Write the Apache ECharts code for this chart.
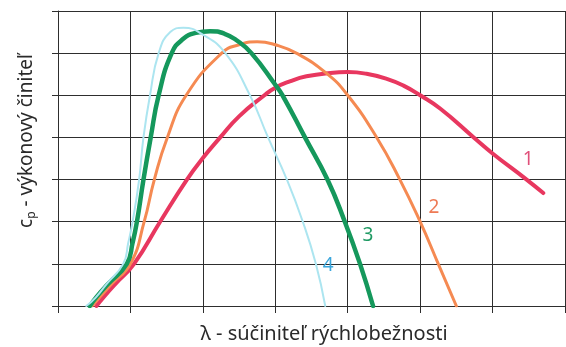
<!DOCTYPE html>
<html>
<head>
<meta charset="utf-8">
<script src="https://cdn.jsdelivr.net/npm/echarts@6/dist/echarts.min.js"></script>
<style>
html,body{margin:0;padding:0;background:#fff;}
#chart{width:566px;height:347px;}
</style>
</head>
<body>
<div id="chart"></div>
<script>
// Curve data in grid units (x: λ, y: cp)
var curve1 = [[0.53,0],[0.63,0.21],[0.79,0.52],[1.05,1],[1.41,2],[1.78,3],[2.0,3.51],[2.24,4],[2.5,4.5],[2.85,5],[3.0,5.18],[3.2,5.33],[3.43,5.45],[3.76,5.53],[4.0,5.55],[4.26,5.51],[4.54,5.39],[4.77,5.23],[5.0,5.0],[5.28,4.68],[5.74,4.0],[6.0,3.62],[6.47,3],[6.7,2.68]];
var curve2 = [[0.47,0],[0.74,0.52],[1.0,1],[1.19,2],[1.33,3],[1.51,4],[1.77,5],[2.26,6],[2.5,6.2],[2.75,6.27],[3.0,6.2],[3.29,6],[3.7,5.53],[4.0,5],[4.4,4],[4.72,3],[5.0,2],[5.25,1],[5.5,0]];
var curve3 = [[0.44,0],[0.53,0.21],[0.69,0.52],[0.95,1],[1.03,1.5],[1.09,2],[1.18,3],[1.28,4],[1.39,5],[1.57,6],[1.73,6.34],[1.9,6.48],[2.1,6.52],[2.3,6.46],[2.47,6.3],[2.67,6],[3.0,5.25],[3.1,5],[3.41,4],[3.72,3],[3.96,2],[4.17,1],[4.35,0]];
var curve4 = [[0.39,0],[0.52,0.2],[0.67,0.52],[0.9,1],[0.97,1.5],[1.03,2],[1.12,3],[1.18,4],[1.27,5],[1.39,6],[1.55,6.5],[1.73,6.6],[2.0,6.44],[2.31,6],[2.65,5],[2.9,4],[3.16,3],[3.38,2],[3.56,1],[3.69,0]];
var curveNames = ['1','2','3','4'];
var labelPos = [[6.49,3.47],[5.19,2.33],[4.28,1.66],[3.73,0.95]];
var xTitle = 'λ - súčiniteľ rýchlobežnosti';
var yTitleMain = ' - výkonový činiteľ';

var lineColors = ['#e8375f','#f58a52','#15985c','#ace5f0'];
var labelColors = ['#e0507a','#ee7a55','#1f9a63','#3aa6dc'];
var widths = [4,3,4.5,2];
var curves = [curve1,curve2,curve3,curve4];
var FONT = 'Noto Sans';
var GRIDC = '#2e2e2e';

var chart = echarts.init(document.getElementById('chart'), null, {renderer:'canvas'});
var series = curves.map(function(c,i){
  return {
    type:'line', name:curveNames[i], data:c, smooth:0.5, symbol:'none',
    lineStyle:{color:lineColors[i], width:widths[i], cap:'round'},
    z: 3+i,
    markPoint:{
      symbol:'circle', symbolSize:1, itemStyle:{color:'rgba(0,0,0,0)'},
      label:{show:true, position:'inside', formatter:curveNames[i], color:labelColors[i], fontFamily:FONT, fontSize:19},
      data:[{coord:labelPos[i]}]
    }
  };
});
chart.setOption({
  animation:false,
  backgroundColor:'#fff',
  grid:{left:58, top:11, right:1, bottom:41},
  xAxis:{type:'value', min:0, max:7, interval:1,
    axisLine:{show:true, lineStyle:{color:GRIDC, width:1}},
    axisTick:{show:true, length:7, lineStyle:{color:GRIDC, width:1}},
    axisLabel:{show:false},
    splitLine:{show:true, lineStyle:{color:GRIDC, width:1}}
  },
  yAxis:{type:'value', min:0, max:7, interval:1,
    axisLine:{show:true, lineStyle:{color:GRIDC, width:1}},
    axisTick:{show:true, length:6, lineStyle:{color:GRIDC, width:1}},
    axisLabel:{show:false},
    splitLine:{show:true, lineStyle:{color:GRIDC, width:1}}
  },
  graphic:[
    {type:'text', x:324, y:334, style:{text:xTitle, fill:'#2a2a2a', font:'20px "Noto Sans"', textAlign:'center', textVerticalAlign:'middle'}},
    {type:'text', x:27, y:141, rotation:Math.PI/2,
      style:{text:'{c|c}{s|p}{t|'+yTitleMain+'}', textAlign:'center', textVerticalAlign:'middle',
        rich:{
          c:{fontSize:19, fontFamily:FONT, fill:'#2a2a2a', color:'#2a2a2a'},
          s:{fontSize:12, fontFamily:FONT, color:'#2a2a2a', fill:'#2a2a2a', padding:[10,0,0,0]},
          t:{fontSize:19, fontFamily:FONT, color:'#2a2a2a', fill:'#2a2a2a'}
        }}}
  ],
  series:series
});
</script>
</body>
</html>
